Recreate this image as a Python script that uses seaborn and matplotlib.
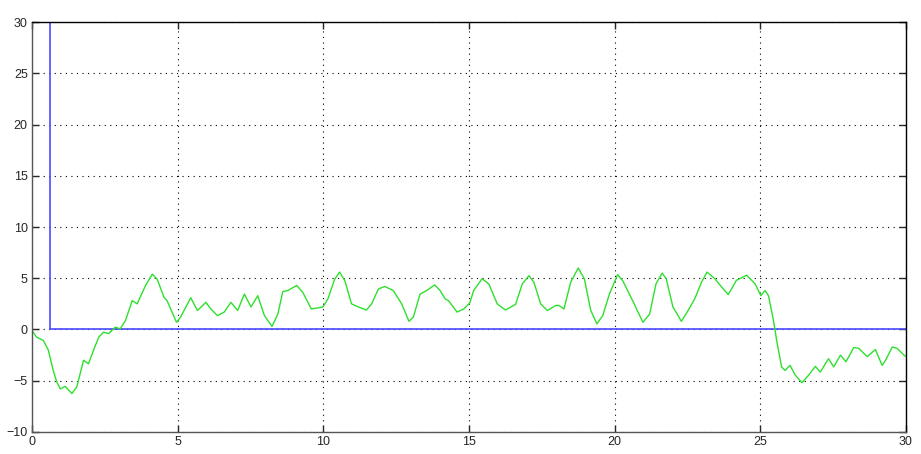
import numpy as np
import pandas as pd
import matplotlib
matplotlib.use("Agg")
import matplotlib.pyplot as plt
import seaborn as sns

# reference signal (blue): step down at t ~ 0.62
ref_t = [0.0, 0.62, 0.62, 30.0]
ref_v = [30.0, 30.0, 0.0, 0.0]

resp_t = [0.0, 0.16, 0.39, 0.56, 0.73, 0.85, 0.97, 1.14, 1.37, 1.54, 1.77, 1.94,
          2.11, 2.29, 2.46, 2.63, 2.86, 3.03, 3.21, 3.44, 3.61, 3.90, 4.13, 4.30,
          4.53, 4.64, 4.96, 5.10, 5.45, 5.68, 5.97, 6.14, 6.37, 6.60, 6.83, 7.06,
          7.29, 7.52, 7.75, 7.98, 8.24, 8.44, 8.61, 8.78, 9.09, 9.30, 9.59, 9.99,
          10.16, 10.39, 10.56, 10.74, 10.97, 11.20, 11.48, 11.66, 11.89, 12.11,
          12.40, 12.69, 12.94, 13.09, 13.32, 13.55, 13.82, 14.01, 14.18, 14.30,
          14.59, 14.82, 15.03, 15.16, 15.45, 15.68, 15.97, 16.25, 16.60, 16.83,
          17.06, 17.23, 17.46, 17.69, 17.98, 18.09, 18.26, 18.49, 18.75, 18.96,
          19.18, 19.39, 19.59, 19.82, 20.10, 20.28, 20.62, 20.97, 21.20, 21.42,
          21.63, 21.77, 22.00, 22.29, 22.52, 22.75, 22.98, 23.17, 23.44, 23.67,
          23.90, 24.18, 24.53, 24.82, 25.02, 25.16, 25.28, 25.45, 25.56, 25.73,
          25.85, 26.02, 26.20, 26.43, 26.66, 26.89, 27.06, 27.34, 27.52, 27.75,
          27.94, 28.21, 28.38, 28.67, 28.95, 29.18, 29.30, 29.53, 29.70, 29.93,
          30.0]
resp_v = [-0.1, -0.75, -1.07, -2.0, -4.0, -5.1, -5.8, -5.55, -6.25, -5.6, -3.0, -3.35,
          -2.05, -0.75, -0.26, -0.4, 0.22, 0.07, 0.87, 2.82, 2.5, 4.3, 5.4, 4.9,
          3.15, 2.8, 0.7, 1.2, 3.1, 1.85, 2.65, 2.0, 1.35, 1.7, 2.65, 1.85,
          3.45, 2.2, 3.3, 1.35, 0.3, 1.5, 3.7, 3.8, 4.3, 3.6, 2.0, 2.2,
          3.0, 4.9, 5.6, 4.75, 2.5, 2.2, 1.9, 2.5, 3.95, 4.2,
          3.8, 2.5, 0.8, 1.2, 3.45, 3.8, 4.35, 3.8, 3.0, 2.8,
          1.7, 2.0, 2.6, 3.8, 4.95, 4.45, 2.5, 1.9, 2.45, 4.45,
          5.25, 4.6, 2.5, 1.85, 2.35, 2.35, 2.0, 4.6, 6.0, 4.95,
          1.85, 0.55, 1.35, 3.45, 5.35, 4.75, 2.8, 0.7, 1.5, 4.45,
          5.5, 4.95, 2.2, 0.8, 1.85, 3.0, 4.6, 5.6, 4.95, 4.15,
          3.4, 4.8, 5.3, 4.45, 3.3, 3.8, 3.3, 0.9, -1.05, -3.65,
          -4.0, -3.5, -4.45, -5.2, -4.45, -3.6, -4.15, -2.85, -3.65, -2.5,
          -3.15, -1.75, -1.85, -2.65, -1.95, -3.5, -3.0, -1.7, -1.85, -2.5,
          -2.65]

x_ticks = [0, 5, 10, 15, 20, 25, 30]
y_ticks = [-10, -5, 0, 5, 10, 15, 20, 25, 30]

sns.set_style("white")
plt.rcParams["font.family"] = ["Liberation Sans", "DejaVu Sans"]

ref_df = pd.DataFrame({"t": ref_t, "v": ref_v})
resp_df = pd.DataFrame({"t": resp_t, "v": resp_v})

fig = plt.figure(figsize=(9.21, 4.54), dpi=100)
ax = fig.add_axes([0.0347, 0.0485, 0.9490, 0.9030])

sns.lineplot(data=ref_df, x="t", y="v", estimator=None, sort=False,
             color="#4a4aff", linewidth=1.2, ax=ax)
sns.lineplot(data=resp_df, x="t", y="v", estimator=None, sort=False,
             color="#2ee02e", linewidth=1.0, ax=ax)

ax.set_xlim(0, 30)
ax.set_ylim(-10, 30)
ax.set_xticks(x_ticks)
ax.set_yticks(y_ticks)
ax.set_xlabel("")
ax.set_ylabel("")
ax.grid(True, color="black", linestyle=(0, (1, 4)), linewidth=0.8)
ax.tick_params(direction="in", length=5, width=1, labelsize=9,
               top=True, right=True, bottom=True, left=True, pad=3)
for side in ax.spines.values():
    side.set_visible(True)
    side.set_color("black")
    side.set_linewidth(1.0)
ax.spines["left"].set_color("#555555")
ax.spines["bottom"].set_color("#555555")

fig.savefig("out.png", dpi=100)
